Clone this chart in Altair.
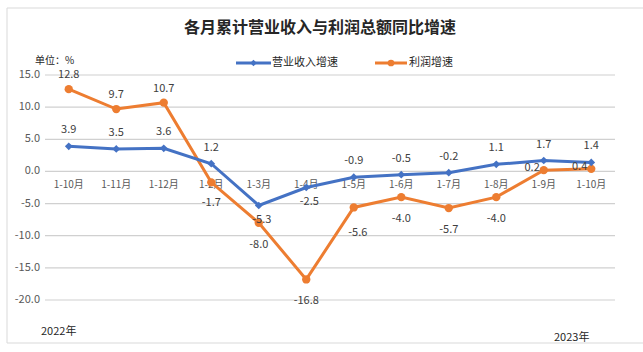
import altair as alt
import pandas as pd

categories = ["1-10月", "1-11月", "1-12月", "1-2月", "1-3月", "1-4月",
              "1-5月", "1-6月", "1-7月", "1-8月", "1-9月", "1-10月"]
revenue = [3.9, 3.5, 3.6, 1.2, -5.3, -2.5, -0.9, -0.5, -0.2, 1.1, 1.7, 1.4]
profit = [12.8, 9.7, 10.7, -1.7, -8.0, -16.8, -5.6, -4.0, -5.7, -4.0, 0.2, 0.4]
y_ticks = [15, 10, 5, 0, -5, -10, -15, -20]

# label placement (layout only)
rev_place = ["up", "up", "up", "up", "down", "down", "up", "up", "up", "up", "up", "up"]
pro_place = ["up", "up", "up", "downleft", "down", "down", "downright", "down", "down", "down", "left", "left"]

BLUE = "#4472C4"
ORANGE = "#ED7D31"
GRAY = "#595959"
FONT = "Noto Sans CJK SC"

n = len(categories)
rev_df = pd.DataFrame({"idx": list(range(n)), "cat": categories, "v": revenue, "place": rev_place})
pro_df = pd.DataFrame({"idx": list(range(n)), "cat": categories, "v": profit, "place": pro_place})
cat_df = pd.DataFrame({"idx": list(range(n)), "cat": categories})
tick_df = pd.DataFrame({"t": y_ticks})

xscale = alt.Scale(domain=[-0.5, n - 0.5], nice=False, zero=False)
yscale = alt.Scale(domain=[-20, 15], nice=False)
X = alt.X("idx:Q", scale=xscale, axis=None)
YN = alt.Y("v:Q", scale=yscale, axis=None)
YT = alt.Y("t:Q", scale=yscale, axis=None)

HYPHEN = "replace(format({}, '.1f'), '\u2212', '-')"

frame = alt.Chart(pd.DataFrame({"a": [0]})).mark_rect(
    fillOpacity=0, stroke="#d9d9d9", strokeWidth=1
).encode(x=alt.value(-38), x2=alt.value(621), y=alt.value(-67), y2=alt.value(268))

grid = alt.Chart(tick_df).mark_rule(color="#d0d0d0", strokeWidth=1.2).encode(
    y=YT, x=alt.value(0), x2=alt.value(570))

ylabels = alt.Chart(tick_df).transform_calculate(
    lab=HYPHEN.format("datum.t")
).mark_text(
    font=FONT, fontSize=11, color=GRAY, align="right", baseline="middle"
).encode(y=YT, x=alt.value(-5), text="lab:N")

cat_labels = alt.Chart(cat_df).transform_calculate(yl="-2.1").mark_text(
    font=FONT, fontSize=10, color=GRAY
).encode(x=X, y=alt.Y("yl:Q", scale=yscale, axis=None), text="cat:N")

def series(df, color, shape, size):
    base = alt.Chart(df)
    line = base.mark_line(color=color, strokeWidth=3).encode(x=X, y=YN)
    pts = base.mark_point(color=color, filled=True, shape=shape, size=size, opacity=1).encode(
        x=X, y=YN)
    return line, pts

def labels(df, place, dx, dy, align="center"):
    return alt.Chart(df).transform_filter(alt.datum.place == place).transform_calculate(
        lab=HYPHEN.format("datum.v")
    ).mark_text(
        font=FONT, fontSize=11, color="#404040", dx=dx, dy=dy, align=align
    ).encode(x=X, y=YN, text="lab:N")

pl, pp = series(pro_df, ORANGE, "circle", 70)
rl, rp = series(rev_df, BLUE, "diamond", 60)

layers = [frame, grid, ylabels, cat_labels, pl, pp, rl, rp,
          labels(rev_df, "up", 0, -16), labels(rev_df, "down", 3, 14),
          labels(pro_df, "up", 0, -14), labels(pro_df, "down", 0, 22),
          labels(pro_df, "downleft", 0, 21), labels(pro_df, "downright", 4, 26),
          labels(pro_df, "left", -4, -2, "right")]

def txt(s, x, y, size=11, weight="normal", align="left", color=GRAY):
    return alt.Chart(pd.DataFrame({"a": [0]})).mark_text(
        text=s, font=FONT, fontSize=size, fontWeight=weight, align=align,
        baseline="middle", color=color
    ).encode(x=alt.value(x), y=alt.value(y))

def leg(color, shape, x0, x1, y):
    d = pd.DataFrame({"a": [0]})
    ln = alt.Chart(d).mark_rule(color=color, strokeWidth=3).encode(
        x=alt.value(x0), x2=alt.value(x1), y=alt.value(y))
    pt = alt.Chart(d).mark_point(color=color, filled=True, shape=shape, size=45, opacity=1).encode(
        x=alt.value((x0 + x1) / 2), y=alt.value(y))
    return [ln, pt]

layers += [
    txt("各月累计营业收入与利润总额同比增速", 275, -47, size=16, weight="bold", align="center", color="#262626"),
    txt("单位：%", -10, -14, size=10, color="#262626"),
    txt("营业收入增速", 227, -12, size=11, color="#262626"),
    txt("利润增速", 364, -12, size=11, color="#262626"),
    txt("2022年", -4, 257, size=11, color="#262626"),
    txt("2023年", 509, 263, size=11, color="#262626"),
]
layers += leg(BLUE, "diamond", 191, 226, -12)
layers += leg(ORANGE, "circle", 330, 362, -12)

chart = alt.layer(*layers).properties(
    width=570, height=225,
    autosize=alt.AutoSizeParams(type="none"),
    padding={"left": 45, "top": 75, "right": 28, "bottom": 52},
    background="white",
).configure_view(stroke=None)

chart.save("out.html", embed_options={"renderer": "svg", "actions": False})
